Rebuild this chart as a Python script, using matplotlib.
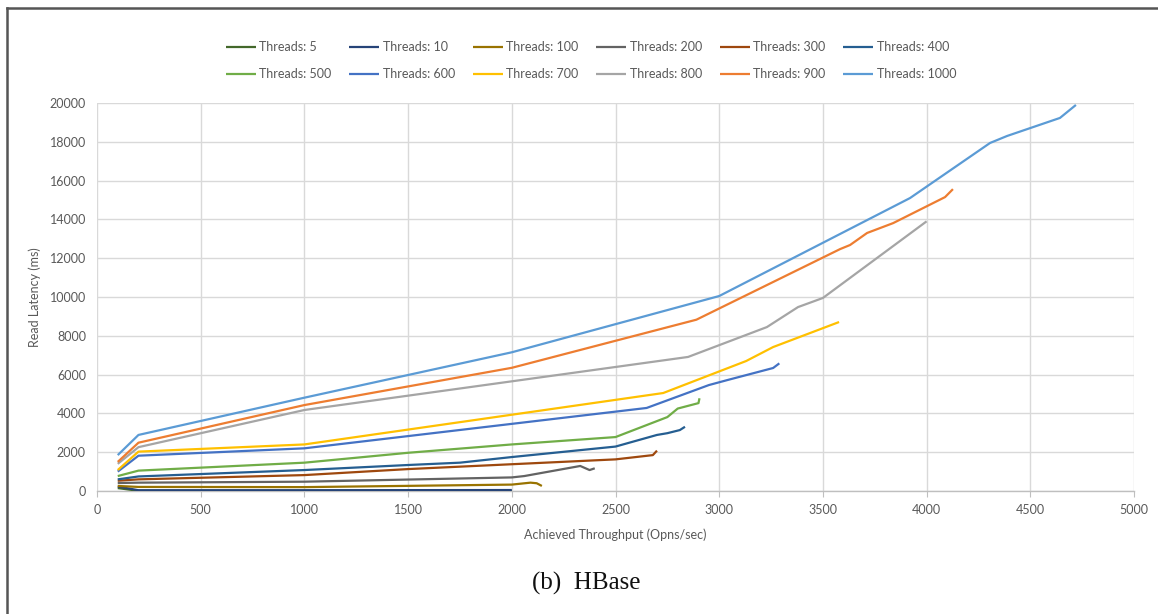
import matplotlib
matplotlib.use("Agg")
import matplotlib.pyplot as plt
from matplotlib.lines import Line2D

# Read latency vs achieved throughput, one series per client thread count
labels = ["Threads: 5", "Threads: 10", "Threads: 100", "Threads: 200",
          "Threads: 300", "Threads: 400", "Threads: 500", "Threads: 600",
          "Threads: 700", "Threads: 800", "Threads: 900", "Threads: 1000"]
colors = ["#43682B", "#264478", "#997300", "#636363", "#9E480E", "#255E91",
          "#70AD47", "#4472C4", "#FFC000", "#A5A5A5", "#ED7D31", "#5B9BD5"]

t5_x = [100, 200, 1000, 2000]
t5_y = [150, 10, 10, 10]
t10_x = [100, 200, 1000, 2000]
t10_y = [230, 40, 40, 50]
t100_x = [100, 200, 1000, 2000, 2090, 2120, 2145]
t100_y = [260, 210, 200, 330, 430, 400, 260]
t200_x = [100, 200, 1000, 2000, 2060, 2330, 2375, 2400]
t200_y = [410, 430, 480, 700, 770, 1290, 1080, 1170]
t300_x = [100, 200, 1000, 1500, 2000, 2500, 2680, 2700]
t300_y = [530, 600, 820, 1130, 1380, 1630, 1850, 2080]
t400_x = [100, 200, 1000, 1500, 1750, 2000, 2500, 2700, 2750, 2810, 2835]
t400_y = [600, 750, 1080, 1340, 1460, 1750, 2290, 2890, 2980, 3140, 3310]
t500_x = [100, 200, 1000, 1500, 2000, 2500, 2750, 2800, 2900, 2905]
t500_y = [770, 1050, 1460, 1970, 2400, 2780, 3810, 4250, 4530, 4780]
t600_x = [100, 200, 1000, 2650, 2950, 3040, 3260, 3290]
t600_y = [1000, 1820, 2200, 4280, 5460, 5720, 6340, 6580]
t700_x = [100, 200, 1000, 2730, 3130, 3260, 3578]
t700_y = [1080, 2030, 2400, 5050, 6700, 7420, 8710]
t800_x = [100, 200, 1000, 2850, 3230, 3380, 3500, 4000]
t800_y = [1400, 2260, 4175, 6910, 8450, 9480, 9950, 13900]
t900_x = [100, 200, 1000, 2000, 2890, 3583, 3631, 3713, 3839, 4089, 4127]
t900_y = [1500, 2490, 4430, 6350, 8830, 12470, 12680, 13300, 13810, 15150, 15560]
t1000_x = [100, 200, 1000, 2000, 3000, 3920, 4306, 4388, 4643, 4720]
t1000_y = [1850, 2890, 4810, 7150, 10050, 15100, 17940, 18300, 19230, 19900]

series_x = [t5_x, t10_x, t100_x, t200_x, t300_x, t400_x,
            t500_x, t600_x, t700_x, t800_x, t900_x, t1000_x]
series_y = [t5_y, t10_y, t100_y, t200_y, t300_y, t400_y,
            t500_y, t600_y, t700_y, t800_y, t900_y, t1000_y]

x_ticks = [0, 500, 1000, 1500, 2000, 2500, 3000, 3500, 4000, 4500, 5000]
y_ticks = [0, 2000, 4000, 6000, 8000, 10000, 12000, 14000, 16000, 18000, 20000]

FONT = ["Lato", "DejaVu Sans"]
TXT = "#595959"

W, H = 1158, 614
fig = plt.figure(figsize=(W / 100, H / 100), dpi=100)
ax = fig.add_axes([97 / W, 1 - 491 / H, (1134 - 97) / W, (491 - 103) / H])

for xs, ys, c, lab in zip(series_x, series_y, colors, labels):
    ax.plot(xs, ys, color=c, lw=1.6, label=lab, solid_joinstyle="round",
            solid_capstyle="butt", zorder=3)

ax.set_xlim(0, 5000)
ax.set_ylim(0, 20000)
ax.set_xticks(x_ticks)
ax.set_yticks(y_ticks)
ax.set_xticklabels([str(v) for v in x_ticks])
ax.set_yticklabels([str(v) for v in y_ticks])
ax.grid(True, color="#D9D9D9", lw=1.0, zorder=0)
for s in ["top", "right", "left"]:
    ax.spines[s].set_visible(False)
ax.spines["bottom"].set_color("#BFBFBF")
ax.spines["bottom"].set_linewidth(1.0)
ax.tick_params(axis="x", length=4, color="#BFBFBF", colors=TXT, labelsize=9, pad=5)
ax.tick_params(axis="y", length=0, colors=TXT, labelsize=9, pad=8)
for t in ax.get_xticklabels() + ax.get_yticklabels():
    t.set_family(FONT)

ax.set_xlabel("Achieved Throughput (Opns/sec)", color=TXT, fontsize=9,
              family=FONT, labelpad=9)
ax.set_ylabel("Read Latency (ms)", color=TXT, fontsize=9, family=FONT,
              labelpad=6)

# Legend: two rows of six, filled column by column
handles, labs = ax.get_legend_handles_labels()
order = []
for i in range(6):
    order += [i, i + 6]
fig.legend([handles[i] for i in order], [labs[i] for i in order],
           loc="center", bbox_to_anchor=(591 / W, 1 - 60.5 / H), ncol=6,
           frameon=False, handlelength=2.4, handletextpad=0.25,
           columnspacing=1.45, labelspacing=1.2,
           prop={"family": FONT, "size": 9}, labelcolor=TXT)

fig.text(586 / W, 1 - 583 / H, "(b)  HBase", ha="center", va="center",
         fontsize=18, family=["Liberation Serif", "DejaVu Serif"], color="#111111")

# Page frame on the left and top edges
fig.add_artist(Line2D([7 / W, 7 / W], [0, 1 - 8 / H], transform=fig.transFigure,
                      color="#555555", lw=1.8))
fig.add_artist(Line2D([7 / W, 1], [1 - 8 / H, 1 - 8 / H], transform=fig.transFigure,
                      color="#555555", lw=1.8))

fig.savefig("out.png", dpi=100)
